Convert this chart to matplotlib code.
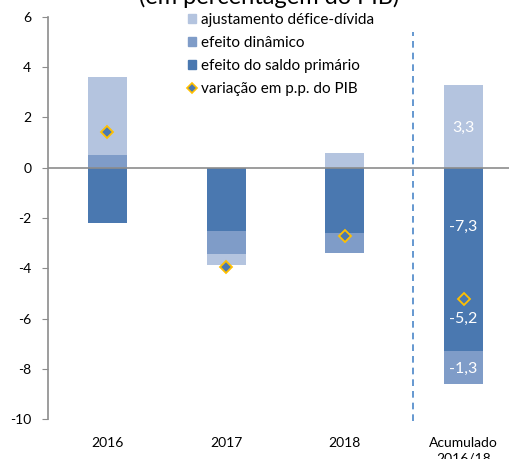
import matplotlib
matplotlib.use("Agg")
import matplotlib.pyplot as plt
from matplotlib.lines import Line2D
from matplotlib.patches import Patch

plt.rcParams['font.family'] = ['Lato', 'DejaVu Sans']

categories = ["2016", "2017", "2018", "Acumulado\n2016/18"]
saldo_primario = [-2.2, -2.5, -2.6, -7.3]
efeito_dinamico = [0.5, -0.95, -0.8, -1.3]
ajustamento = [3.1, -0.43, 0.6, 3.3]
variacao = [1.4, -3.93, -2.7, -5.2]

labels_text = ["3,3", "-7,3", "-5,2", "-1,3"]
labels_y = [1.6, -2.35, -6.0, -8.0]

c_dark = "#4A78B0"
c_mid = "#7F9CC8"
c_light = "#B4C4DF"
c_gold = "#FFC000"

fig = plt.figure(figsize=(5.1, 4.59), dpi=100)
ax = fig.add_axes([48/510, 1-419.3/459, 475/510, (419.3-16.7)/459])

x = list(range(len(categories)))
w = 0.33

pos_base = [0.0]*4
neg_base = [0.0]*4
for vals, col in [(saldo_primario, c_dark), (efeito_dinamico, c_mid), (ajustamento, c_light)]:
    bottoms = []
    for i, v in enumerate(vals):
        if v >= 0:
            bottoms.append(pos_base[i]); pos_base[i] += v
        else:
            bottoms.append(neg_base[i]); neg_base[i] += v
    ax.bar(x, vals, width=w, bottom=bottoms, color=col, edgecolor='none', zorder=2)

ax.plot(x, variacao, linestyle='none', marker='D', markersize=6.5,
        markerfacecolor=c_dark, markeredgecolor=c_gold, markeredgewidth=1.3, zorder=4)

for t, yv in zip(labels_text, labels_y):
    ax.text(3, yv, t, color='white', ha='center', va='center', fontsize=11.5, zorder=5)

ax.axhline(0, color='#8C8C8C', lw=1.2, zorder=3)
ax.plot([2.57, 2.57], [-10.05, 5.4], color='#4A86C8', lw=1.2, ls=(0, (4, 3)), zorder=1, clip_on=False)

ax.set_xlim(-0.5, 3.5)
ax.set_ylim(-10, 6)
ax.set_yticks(range(-10, 7, 2))
ax.set_yticklabels([str(v) for v in range(-10, 7, 2)], fontsize=10)
ax.set_xticks(x)
ax.set_xticklabels(categories, fontsize=10, linespacing=1.3)
ax.tick_params(axis='x', length=0, pad=13)
ax.tick_params(axis='y', length=4, color='#8C8C8C', pad=8)
for s in ['top', 'right', 'bottom']:
    ax.spines[s].set_visible(False)
ax.spines['left'].set_color('#8C8C8C')
ax.spines['left'].set_linewidth(1.2)

handles = [Patch(color=c_light), Patch(color=c_mid), Patch(color=c_dark),
           Line2D([], [], ls='none', marker='D', markersize=5, markerfacecolor=c_dark,
                  markeredgecolor=c_gold, markeredgewidth=1.2)]
names = ["ajustamento défice-dívida", "efeito dinâmico", "efeito do saldo primário",
         "variação em p.p. do PIB"]
fig.legend(handles, names, loc='upper left', bbox_to_anchor=(188/510, 1-13/459),
           frameon=False, fontsize=11, handlelength=0.55, handleheight=0.55,
           handletextpad=0.3, labelspacing=0.58, borderpad=0, borderaxespad=0)

fig.text(269/510, 1-4/459, "(em percentagem do PIB)", ha='center', va='baseline', fontsize=17)

fig.savefig("out.png", dpi=100)
